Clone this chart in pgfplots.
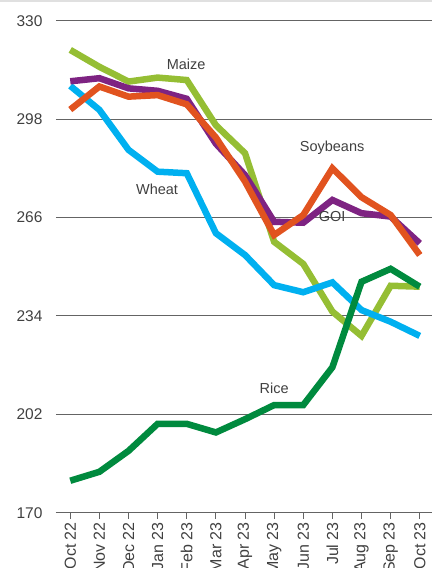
\documentclass[border=0pt]{standalone}
\usepackage{pgfplots}
\pgfplotsset{compat=1.18}
\usepackage{fontspec}
\setmainfont{Liberation Sans}

\definecolor{maize}{RGB}{149,190,52}
\definecolor{goi}{RGB}{126,35,130}
\definecolor{soy}{RGB}{225,83,31}
\definecolor{wheat}{RGB}{0,176,240}
\definecolor{rice}{RGB}{0,138,62}
\definecolor{gridcol}{RGB}{100,100,100}
\definecolor{txt}{RGB}{64,64,64}

% month index 0 = Oct 22 ... 12 = Oct 23
\pgfplotstableread{
x maize goi soy wheat rice
0  320.5 310.3 301.1 308.8 180.4
1  315.0 311.3 308.6 301.0 183.3
2  310.2 308.0 305.3 288.0 190.1
3  311.5 307.2 305.8 280.9 198.9
4  310.7 304.6 302.8 280.4 198.9
5  296.0 290.0 292.0 260.9 196.1
6  286.9 279.8 277.7 253.8 200.4
7  258.1 264.6 260.3 244.0 205.0
8  250.9 264.3 266.8 241.7 205.0
9  235.4 271.7 282.0 244.9 217.3
10 227.5 267.4 272.6 235.9 245.1
11 243.8 266.3 266.8 232.1 249.3
12 243.5 257.6 253.8 227.5 243.5
}\prices

\begin{document}
\begin{tikzpicture}
\path[use as bounding box] (-56pt,-55.3pt) rectangle (376pt,512.7pt);
\clip (-56pt,-55.3pt) rectangle (376pt,512.7pt);
\begin{axis}[
    at={(0,0)}, anchor=south west,
    scale only axis,
    width=376pt, height=492pt,
    xmin=-0.49, xmax=12.42,
    ymin=170, ymax=330,
    ytick={170,202,234,266,298,330},
    xtick={0,...,12},
    xticklabels={Oct 22,Nov 22,Dec 22,Jan 23,Feb 23,Mar 23,Apr 23,May 23,Jun 23,Jul 23,Aug 23,Sep 23,Oct 23},
    axis x line*=bottom,
    axis y line*=left,
    x axis line style={-, gridcol, line width=1pt},
    y axis line style={draw=none},
    ymajorgrids,
    major grid style={gridcol, line width=1pt},
    ytick style={draw=none},
    xtick style={gridcol, line width=1pt},
    tick align=outside,
    major tick length=6pt,
    /pgf/number format/assume math mode=true,
    ticklabel style={text=txt},
    yticklabel style={font=\fontsize{15.5}{17}\selectfont, xshift=-4pt},
    xticklabel style={font=\fontsize{16}{18}\selectfont, rotate=90, anchor=east},
    every axis plot/.append style={line width=6.5pt, no marks},
    clip=false,
]
\addplot[maize] table[x=x, y=maize] {\prices};
\addplot[wheat] table[x=x, y=wheat] {\prices};
\addplot[goi] table[x=x, y=goi] {\prices};
\addplot[soy] table[x=x, y=soy] {\prices};
\addplot[rice] table[x=x, y=rice] {\prices};

\begin{scope}[every node/.style={font=\fontsize{14.5}{16}\selectfont, text=txt}]
\node at (axis cs:3.98,315.9) {Maize};
\node at (axis cs:2.98,275.3) {Wheat};
\node at (axis cs:8.99,288.6) {Soybeans};
\node at (axis cs:8.99,266.2) {GOI};
\node at (axis cs:7.0,210.5) {Rice};
\end{scope}
\end{axis}
\draw[black!12, line width=2pt] (-56pt,511.7pt) -- (376pt,511.7pt);
\end{tikzpicture}
\end{document}
